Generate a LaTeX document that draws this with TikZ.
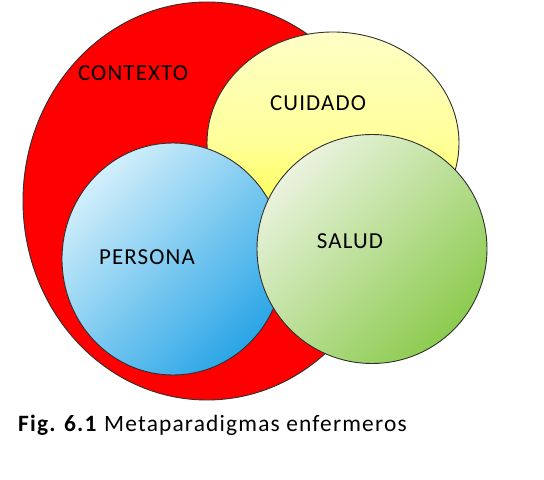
\documentclass[tikz,border=0pt]{standalone}
\usepackage{fontspec}
\setmainfont{Carlito}
\usetikzlibrary{shapes.geometric}
\definecolor{ctxred}{HTML}{FF0000}
\definecolor{edge}{HTML}{303030}
\definecolor{bluelight}{HTML}{D2EFFB}
\definecolor{bluedark}{HTML}{2AA5E6}
\definecolor{greenlight}{HTML}{EAF3DE}
\definecolor{greendark}{HTML}{8CCB4F}
\begin{document}
\begin{tikzpicture}[x=1bp,y=-1bp,
  blob/.style={ellipse, draw=edge, line width=0.9bp, inner sep=0pt},
  lbl/.style={font=\fontsize{23}{25}\selectfont\addfontfeature{LetterSpace=5}, text=black, inner sep=0pt}]
\useasboundingbox[fill=white] (0,0) rectangle (544,480);
\node[blob, fill=ctxred, minimum width=368bp, minimum height=398bp] (ctx) at (207,201) {};
\node[blob, top color=yellow!22, bottom color=yellow!85, middle color=yellow!40, minimum width=252bp, minimum height=222bp] (cui) at (333,143) {};
\node[blob, top color=bluelight, bottom color=bluedark, shading angle=45, minimum width=222bp, minimum height=232bp] (per) at (173,259) {};
\node[blob, top color=greenlight, bottom color=greendark, shading angle=45, minimum width=230bp, minimum height=229bp] (sal) at (372,249) {};
\node[lbl] (tctx) at (133,73) {CONTEXTO};
\node[lbl] (tcui) at (318,103) {CUIDADO};
\node[lbl] (tper) at (147,257) {PERSONA};
\node[lbl] (tsal) at (350,241) {SALUD};
\node[anchor=west, inner sep=0pt, font=\fontsize{23.5}{25}\selectfont\addfontfeature{LetterSpace=5}] (cap) at (18,425) {\textbf{Fig. 6.1} Metaparadigmas enfermeros};
\end{tikzpicture}
\end{document}
